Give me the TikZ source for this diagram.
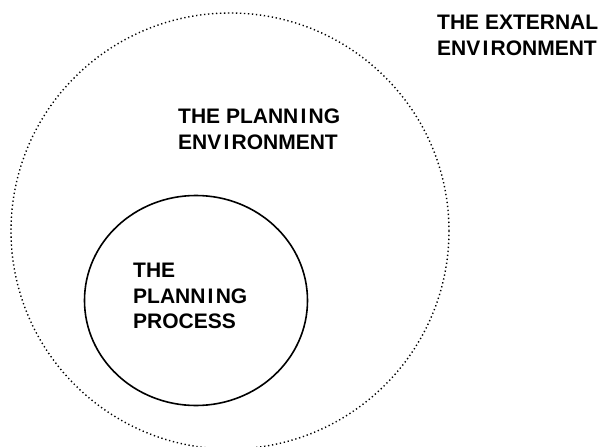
\documentclass[tikz,border=0pt]{standalone}
\usepackage{fontspec}
\setmainfont{Liberation Sans}
\usetikzlibrary{shapes.geometric}
\newcommand{\wideI}{\kern2.2pt I\kern2.2pt}
\tikzset{
  label text/.style={anchor=north west, inner sep=0pt, align=left,
    font={\fontsize{21}{25.5}\selectfont\bfseries}},
  outer ring/.style={draw=black, ellipse, inner sep=0pt, line width=1.4pt,
    dash pattern=on 1.3pt off 2.7pt},
  inner ring/.style={draw=black, ellipse, inner sep=0pt, line width=1.6pt}
}
\begin{document}
\begin{tikzpicture}[x=1pt,y=-1pt]
  \useasboundingbox[fill=white] (0,0) rectangle (600,447);
  \clip (0,0) rectangle (600,447);
  \node[outer ring, minimum width=438pt, minimum height=436pt] (outer) at (230,231) {};
  \node[inner ring, minimum width=223pt, minimum height=210pt] (inner) at (196,300.5) {};
  \node[label text] (external) at (437,15) {THE EXTERNAL\\ENV\wideI RONMENT};
  \node[label text] (planenv) at (178,109) {THE PLANN\wideI NG\\ENV\wideI RONMENT};
  \node[label text] (process) at (133,263) {THE\\PLANN\wideI NG\\PROCESS};
\end{tikzpicture}
\end{document}
